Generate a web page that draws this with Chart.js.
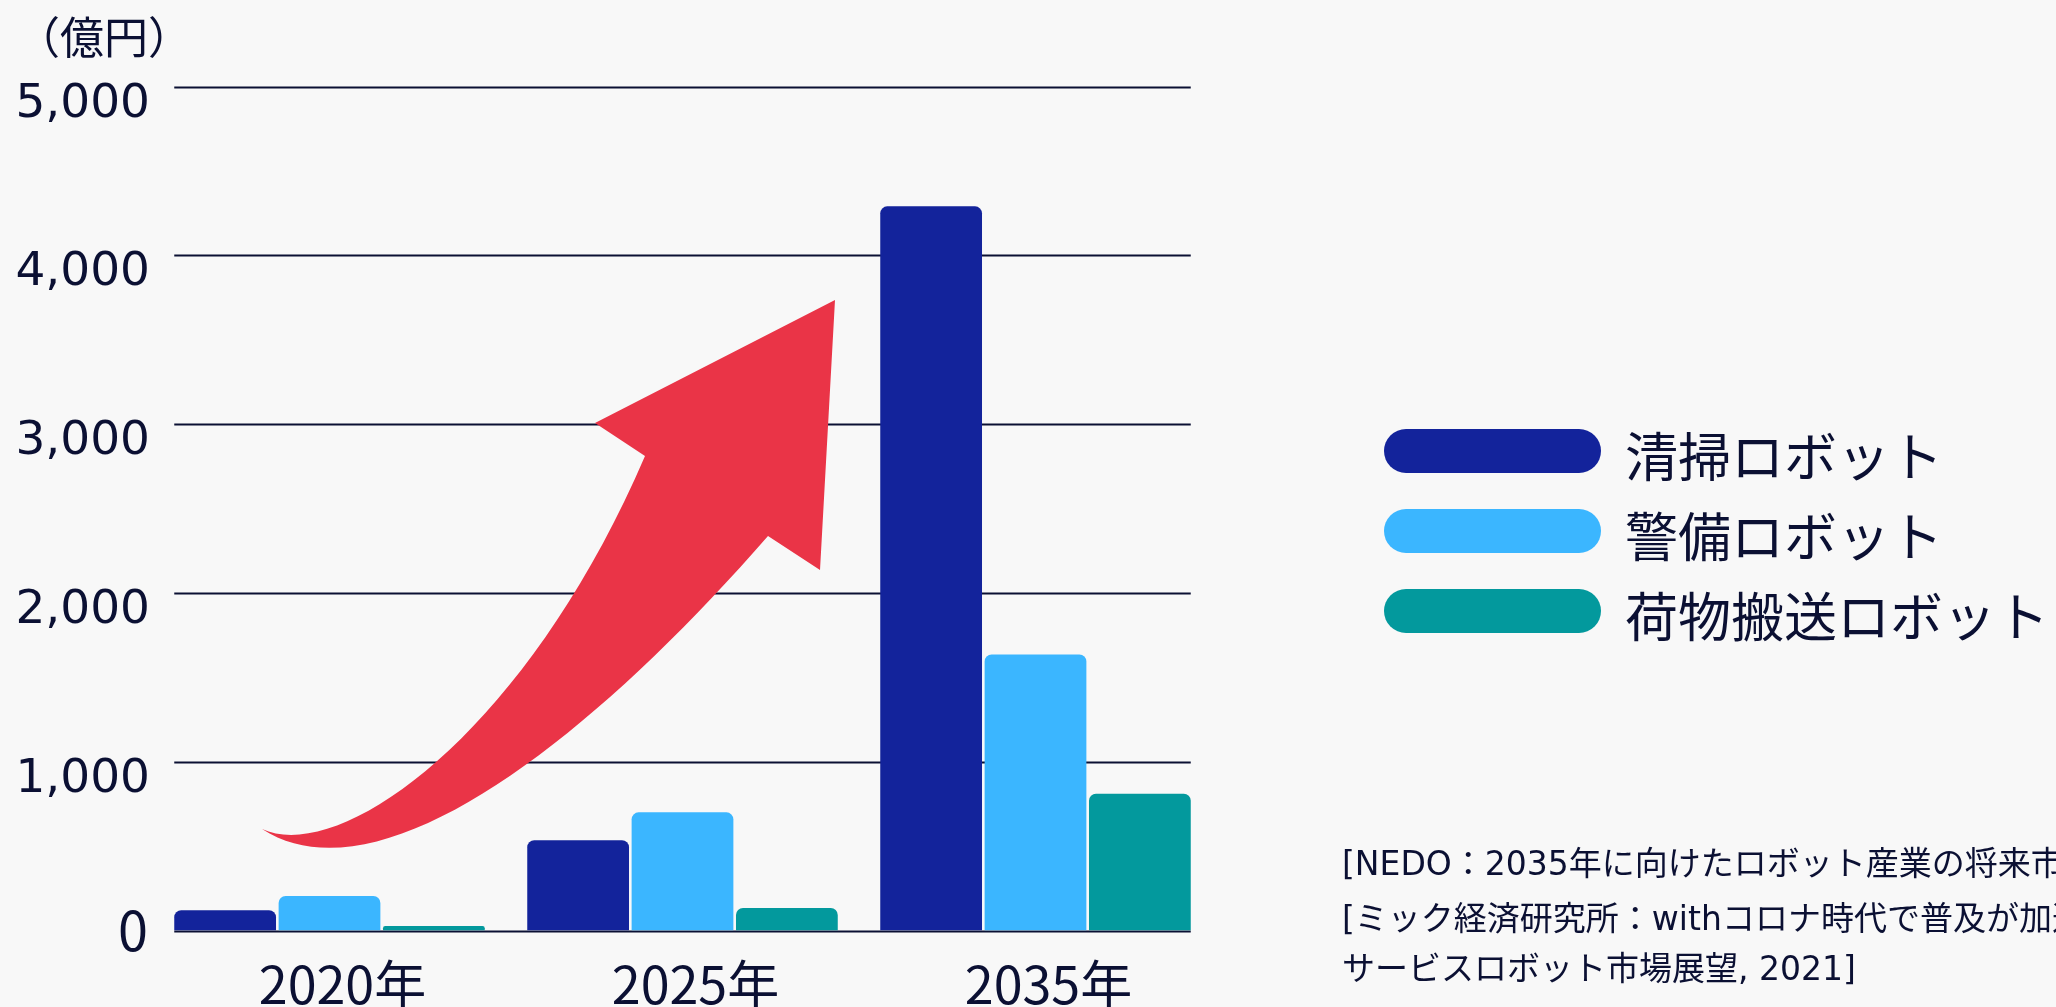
<!doctype html>
<html lang="ja">
  <head>
    <meta charset="utf-8">
    <title>サービスロボット市場規模</title>
    <style>
      html, body {
        margin: 0;
        padding: 0;
        background: #f8f8f8;
        overflow: hidden;
      }
      .chartBox {
        width: 2056px;
        height: 1007px;
        position: relative;
      }
    </style>
  </head>
  <body>
    <div class="chartBox">
      <canvas id="myChart"></canvas>
    </div>

    <script src="https://cdn.jsdelivr.net/npm/chart.js/dist/chart.umd.min.js"></script>
    <script>
    // setup
    const years = ['2020年', '2025年', '2035年'];
    const cleaning = [120, 535, 4290];
    const security = [205, 700, 1635];
    const delivery = [27, 133, 810];
    const yTicks = [0, 1000, 2000, 3000, 4000, 5000];
    const seriesNames = ['清掃ロボット', '警備ロボット', '荷物搬送ロボット'];
    const seriesColors = ['#13239b', '#3bb6ff', '#03999d'];
    const unitLabel = '（億円）';
    const sources = [
      '[NEDO：2035年に向けたロボット産業の将来市場予測, 2010]',
      '[ミック経済研究所：withコロナ時代で普及が加速する',
      'サービスロボット市場展望, 2021]'
    ];

    const ink = '#0b1033';
    const jp = '"Noto Sans CJK JP", "Noto Sans", sans-serif';
    const latin = '"DejaVu Sans", "Noto Sans CJK JP", sans-serif';

    const data = {
      labels: years,
      datasets: [
        { label: seriesNames[0], data: cleaning, backgroundColor: seriesColors[0] },
        { label: seriesNames[1], data: security, backgroundColor: seriesColors[1] },
        { label: seriesNames[2], data: delivery, backgroundColor: seriesColors[2] }
      ].map(ds => Object.assign(ds, {
        borderRadius: 7,
        borderSkipped: 'start',
        categoryPercentage: 0.887,
        barPercentage: 0.975
      }))
    };

    // horizontal rules, spanning from the first bar to the last one
    const gridLines = {
      id: 'gridLines',
      beforeDatasetsDraw(chart) {
        const { ctx, scales: { y } } = chart;
        const first = chart.getDatasetMeta(0).data[0];
        const last = chart.getDatasetMeta(2).data[2];
        const x0 = first.x - first.width / 2;
        const x1 = last.x + last.width / 2;
        ctx.save();
        ctx.strokeStyle = ink;
        ctx.lineWidth = 2;
        yTicks.forEach(v => {
          const py = Math.round(y.getPixelForValue(v)) + 0.5;
          ctx.beginPath();
          ctx.moveTo(x0, py);
          ctx.lineTo(x1, py);
          ctx.stroke();
        });
        ctx.restore();
      }
    };

    // big red growth arrow over the plot
    const growthArrow = {
      id: 'growthArrow',
      afterDatasetsDraw(chart) {
        const { ctx } = chart;
        ctx.save();
        ctx.fillStyle = '#ea3447';
        ctx.beginPath();
        ctx.moveTo(262, 829);
        ctx.bezierCurveTo(340, 865, 525, 735, 645, 456);
        ctx.lineTo(595, 423);
        ctx.lineTo(835, 300);
        ctx.lineTo(820, 570);
        ctx.lineTo(768, 536);
        ctx.bezierCurveTo(590, 740, 380, 905, 262, 829);
        ctx.closePath();
        ctx.fill();
        ctx.restore();
      }
    };

    // y labels, unit, legend and source notes
    const annotations = {
      id: 'annotations',
      afterDraw(chart) {
        const { ctx, scales: { y } } = chart;
        ctx.save();
        ctx.fillStyle = ink;

        ctx.textAlign = 'right';
        ctx.textBaseline = 'alphabetic';
        yTicks.forEach(v => {
          const py = y.getPixelForValue(v);
          if (v === 0) {
            ctx.font = '54px ' + jp;
            ctx.fillText('0', 148, py + 20.5);
          } else {
            ctx.font = '47px ' + latin;
            ctx.fillText(v.toLocaleString('en-US'), 150, py + 30);
          }
        });

        ctx.textAlign = 'left';
        ctx.font = '44px ' + jp;
        ctx.fillText(unitLabel, 16, 54);

        ctx.font = '53px ' + jp;
        chart.data.datasets.forEach((ds, i) => {
          const base = 477 + i * 80;
          const cy = base - 26;
          ctx.fillStyle = ds.backgroundColor;
          ctx.beginPath();
          ctx.roundRect(1384, cy - 22, 217, 44, 22);
          ctx.fill();
          ctx.fillStyle = ink;
          ctx.fillText(ds.label, 1625, base);
        });

        ctx.font = '33px ' + latin;
        [875, 930, 980].forEach((base, i) => {
          ctx.fillText(sources[i], 1342, base);
        });
        ctx.restore();
      }
    };

    // config
    const config = {
      type: 'bar',
      data,
      options: {
        responsive: true,
        maintainAspectRatio: false,
        animation: false,
        layout: {
          padding: { top: 86.5, right: 844, bottom: 0, left: 0 }
        },
        plugins: {
          legend: { display: false },
          tooltip: { enabled: false }
        },
        scales: {
          x: {
            grid: { display: false },
            border: { display: false },
            ticks: {
              color: ink,
              font: { family: jp, size: 52 },
              padding: 15,
              labelOffset: 13
            },
            afterFit: scale => { scale.height = 76.5; }
          },
          y: {
            min: 0,
            max: 5000,
            grid: { display: false },
            border: { display: false },
            ticks: { display: false, stepSize: 1000 },
            afterFit: scale => { scale.width = 153; }
          }
        }
      },
      plugins: [gridLines, growthArrow, annotations]
    };

    // render init block
    const myChart = new Chart(
      document.getElementById('myChart'),
      config
    );
    </script>
  </body>
</html>
